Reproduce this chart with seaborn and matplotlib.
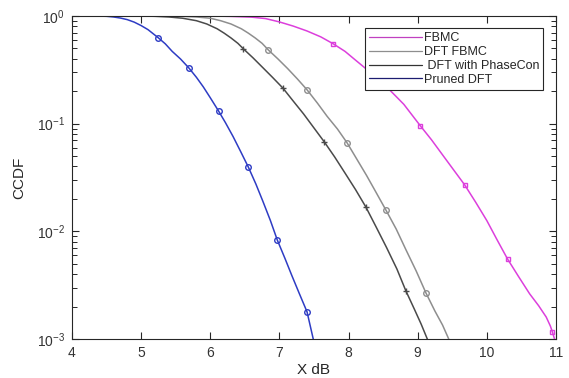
import pandas as pd
import seaborn as sns
import matplotlib
matplotlib.use("Agg")
import matplotlib.pyplot as plt
from matplotlib.lines import Line2D
from matplotlib.ticker import NullFormatter, FixedLocator

# curve points (x in dB, CCDF)
fbmc_x = [4.0, 5.67, 6.0, 6.3, 6.6, 6.8, 7.0, 7.2, 7.4, 7.6, 7.78, 7.95, 8.1, 8.25, 8.4, 8.6, 8.8,
          9.04, 9.2, 9.36, 9.52, 9.68, 9.84, 10.0, 10.15, 10.3, 10.46, 10.62, 10.75, 10.86, 10.92, 10.95, 10.98]
fbmc_y = [1.0, 1.0, 0.998, 0.989, 0.973, 0.944, 0.879, 0.804, 0.724, 0.638, 0.55, 0.468, 0.389, 0.324, 0.269, 0.204, 0.151,
          0.0952, 0.0708, 0.0513, 0.0372, 0.027, 0.0186, 0.0126, 0.00832, 0.00554, 0.0038, 0.00263, 0.00204, 0.0016, 0.00132, 0.00116, 0.001]

dft_x = [4.0, 5.2, 5.4, 5.6, 5.8, 6.0, 6.15, 6.3, 6.45, 6.55, 6.65, 6.75, 6.84, 6.98, 7.12, 7.26, 7.40,
         7.55, 7.69, 7.84, 7.98, 8.12, 8.26, 8.40, 8.54, 8.69, 8.83, 8.98, 9.12, 9.25, 9.36, 9.45]
dft_y = [1.0, 1.0, 0.998, 0.991, 0.977, 0.951, 0.902, 0.841, 0.759, 0.692, 0.624, 0.556, 0.483, 0.398, 0.324, 0.260, 0.206,
         0.155, 0.117, 0.0891, 0.0662, 0.0468, 0.0331, 0.0229, 0.0158, 0.0105, 0.00676, 0.00427, 0.00268, 0.00182, 0.00135, 0.001]

phase_x = [4.0, 4.8, 5.0, 5.2, 5.4, 5.6, 5.8, 5.95, 6.1, 6.2, 6.3, 6.4, 6.48, 6.62, 6.76, 6.9, 7.05,
           7.2, 7.35, 7.5, 7.65, 7.8, 7.95, 8.1, 8.25, 8.4, 8.55, 8.7, 8.83, 8.95, 9.05, 9.14]
phase_y = [1.0, 1.0, 0.998, 0.991, 0.977, 0.951, 0.902, 0.841, 0.759, 0.692, 0.624, 0.556, 0.494, 0.407, 0.331, 0.269, 0.214,
           0.162, 0.123, 0.0912, 0.0676, 0.049, 0.0347, 0.0245, 0.01686, 0.01096, 0.00708, 0.00447, 0.0028, 0.00191, 0.00138, 0.001]

pruned_x = [4.0, 4.3, 4.5, 4.6, 4.7, 4.8, 4.9, 5.0, 5.1, 5.25, 5.35, 5.45, 5.57, 5.69, 5.8, 5.9, 6.0, 6.12,
            6.22, 6.33, 6.44, 6.55, 6.66, 6.76, 6.87, 6.97, 7.08, 7.18, 7.29, 7.40, 7.49]
pruned_y = [1.0, 0.999, 0.991, 0.977, 0.955, 0.923, 0.875, 0.813, 0.745, 0.625, 0.55, 0.468, 0.398, 0.329, 0.269, 0.219, 0.174, 0.131,
            0.102, 0.0759, 0.055, 0.0396, 0.0275, 0.0191, 0.0126, 0.0083, 0.00562, 0.00389, 0.00263, 0.00179, 0.001]

# marker positions
fbmc_mx = [7.78, 9.04, 9.68, 10.30, 10.95]
fbmc_my = [0.55, 0.0952, 0.027, 0.00554, 0.00116]
dft_mx = [6.84, 7.40, 7.98, 8.54, 9.12]
dft_my = [0.483, 0.206, 0.0662, 0.0158, 0.00268]
phase_mx = [6.48, 7.05, 7.65, 8.25, 8.83]
phase_my = [0.494, 0.214, 0.0676, 0.01686, 0.0028]
pruned_mx = [5.25, 5.69, 6.12, 6.55, 6.97, 7.40]
pruned_my = [0.625, 0.329, 0.131, 0.0396, 0.0083, 0.00179]

labels = ["FBMC", "DFT FBMC", " DFT with PhaseCon", "Pruned DFT"]
colors = ["#dc3fdc", "#8e8e8e", "#4a4a4a", "#2e3cc4"]
legend_colors = ["#c040c0", "#8e8e8e", "#333333", "#1c1c70"]

x_ticks = [4, 5, 6, 7, 8, 9, 10, 11]
y_ticks = [1e-3, 1e-2, 1e-1, 1]

sns.set_style("ticks", {"xtick.direction": "in", "ytick.direction": "in"})
plt.rcParams["font.family"] = ["Liberation Sans", "DejaVu Sans"]
plt.rcParams["mathtext.fontset"] = "custom"
plt.rcParams["mathtext.rm"] = "Liberation Sans"

fig = plt.figure(figsize=(5.69, 3.78), dpi=100)
ax = fig.add_axes([0.1265, 0.103, 0.8505, 0.855])

curves = [(fbmc_x, fbmc_y), (dft_x, dft_y), (phase_x, phase_y), (pruned_x, pruned_y)]
marks = [(fbmc_mx, fbmc_my, "s", 3.5), (dft_mx, dft_my, "o", 4), (phase_mx, phase_my, "+", 4), (pruned_mx, pruned_my, "o", 4)]

for (xs, ys), lab, c in zip(curves, labels, colors):
    df = pd.DataFrame({"x": xs, "y": ys})
    sns.lineplot(data=df, x="x", y="y", ax=ax, color=c, linewidth=1.1, sort=False, legend=False)

for (mx, my, m, s), c in zip(marks, colors):
    ax.plot(mx, my, linestyle="none", marker=m, markersize=s, markerfacecolor="none",
            markeredgecolor=c, markeredgewidth=1.0)

ax.set_yscale("log")
ax.set_xlim(4, 11)
ax.set_ylim(1e-3, 1)
ax.xaxis.set_major_locator(FixedLocator(x_ticks))
ax.set_yticks(y_ticks)
# minor ticks 2..9 within each decade
minor = [m * d for d in y_ticks[:-1] for m in range(2, 10)]
ax.yaxis.set_minor_locator(FixedLocator(minor))
ax.yaxis.set_minor_formatter(NullFormatter())
ax.xaxis.set_minor_locator(FixedLocator([]))

ax.tick_params(which="both", direction="in", top=True, right=True, left=True, bottom=True,
               colors="#262626", labelcolor="#333333", labelsize=10, width=0.8)
ax.tick_params(which="major", length=5, pad=5)
ax.tick_params(axis="y", which="minor", length=3.5, width=0.7)
for sp in ax.spines.values():
    sp.set_color("#262626")
    sp.set_linewidth(0.8)

ax.set_xlabel("X dB", fontsize=11, color="#262626", labelpad=2)
ax.set_ylabel("CCDF", fontsize=11, color="#262626", labelpad=8)

handles = [Line2D([], [], color=c, linewidth=0.9) for c in legend_colors]
leg = ax.legend(handles, labels, loc="upper right", fontsize=9, frameon=True, fancybox=False,
                edgecolor="#262626", framealpha=1, handlelength=4.2, handletextpad=0.2,
                borderaxespad=1.0, labelspacing=0.15, borderpad=0.3)
leg.get_frame().set_linewidth(0.8)

fig.savefig("out.png", dpi=100)
